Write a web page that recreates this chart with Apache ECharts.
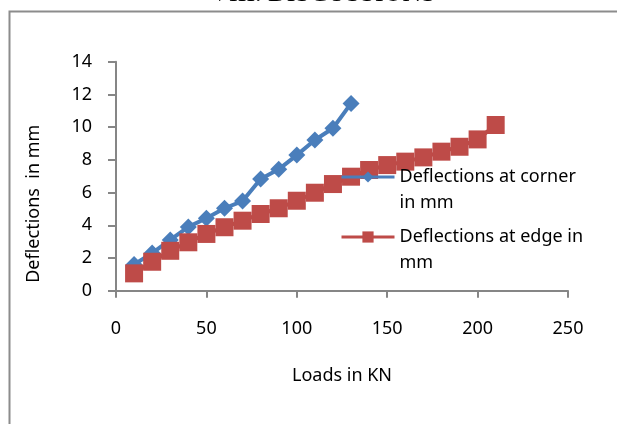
<!DOCTYPE html>
<html>
<head>
<meta charset="utf-8">
<style>
html,body{margin:0;padding:0;background:#fff;}
#chart{width:617px;height:424px;}
</style>
<script src="https://cdn.jsdelivr.net/npm/echarts@6/dist/echarts.min.js"></script>
</head>
<body>
<div id="chart"></div>
<script>
// Data
const cornerLoads = [10, 20, 30, 40, 50, 60, 70, 80, 90, 100, 110, 120, 130];
const cornerDefl  = [1.6, 2.3, 3.1, 3.9, 4.43, 5.04, 5.48, 6.83, 7.42, 8.29, 9.21, 9.93, 11.45];
const edgeLoads = [10, 20, 30, 40, 50, 60, 70, 80, 90, 100, 110, 120, 130, 140, 150, 160, 170, 180, 190, 200, 210];
const edgeDefl  = [1.06, 1.77, 2.44, 2.96, 3.47, 3.88, 4.28, 4.69, 5.04, 5.5, 5.99, 6.52, 6.97, 7.38, 7.68, 7.89, 8.15, 8.5, 8.8, 9.25, 10.13];
const seriesNames = ['Deflections at corner in mm', 'Deflections at edge in mm'];
const legendLines = {
  'Deflections at corner in mm': '\nDeflections at corner\nin mm',
  'Deflections at edge in mm': '\nDeflections at edge in\nmm'
};
const xTicks = [0, 50, 100, 150, 200, 250];
const yTicks = [0, 2, 4, 6, 8, 10, 12, 14];

const pair = (xs, ys) => xs.map((x, i) => [x, ys[i]]);

const font = '"Noto Sans", "Open Sans", sans-serif';
const axisGray = '#868686';
const blue = '#4a7ebb';
const red = '#be4b48';

const chart = echarts.init(document.getElementById('chart'), null, {renderer: 'canvas'});
chart.setOption({
  backgroundColor: '#ffffff',
  animation: false,
  textStyle: {fontFamily: font},
  graphic: [
    {
      type: 'rect', left: 7, top: 9, silent: true,
      shape: {x: 0, y: 0, width: 700, height: 500},
      style: {fill: 'none', stroke: '#8c8c8c', lineWidth: 2}
    },
    {
      type: 'text', x: 323, y: -6, silent: true,
      style: {text: 'VIII. DISCUSSIONS', fontFamily: '"Liberation Serif", serif', fontSize: 26,
              fill: '#000', align: 'center', verticalAlign: 'middle'}
    }
  ],
  grid: {left: 116, right: 49, top: 61.7, bottom: 133.3, containLabel: false},
  legend: {
    orient: 'vertical', left: 340, top: 138, padding: 0,
    itemWidth: 53, itemHeight: 14, itemGap: -18,
    data: seriesNames,
    formatter: name => legendLines[name],
    lineStyle: {width: 3},
    textStyle: {fontFamily: font, fontSize: 18, lineHeight: 26, color: '#000'}
  },
  xAxis: {
    type: 'value', min: 0, max: 250, interval: 50,
    name: 'Loads in KN', nameLocation: 'middle', nameGap: 76,
    nameTextStyle: {fontFamily: font, fontSize: 18, color: '#000'},
    axisLine: {show: true, lineStyle: {color: axisGray, width: 2}},
    axisTick: {show: true, length: 7, lineStyle: {color: axisGray, width: 2}},
    axisLabel: {margin: 29, fontFamily: font, fontSize: 18, color: '#000',
      customValues: xTicks},
    splitLine: {show: false}
  },
  yAxis: {
    type: 'value', min: 0, max: 14, interval: 2,
    name: 'Deflections  in mm', nameLocation: 'middle', nameGap: 73, nameRotate: 90,
    nameTextStyle: {fontFamily: font, fontSize: 18, color: '#000', padding: [0, 55, 0, 0]},
    axisLine: {show: true, lineStyle: {color: axisGray, width: 2}},
    axisTick: {show: true, length: 8, lineStyle: {color: axisGray, width: 2}},
    axisLabel: {margin: 24, fontFamily: font, fontSize: 18, color: '#000'},
    splitLine: {show: false}
  },
  series: [
    {
      name: seriesNames[0], type: 'line', data: pair(cornerLoads, cornerDefl),
      symbol: 'diamond', symbolSize: 17, showAllSymbol: true,
      lineStyle: {color: blue, width: 4},
      itemStyle: {color: blue},
      z: 2
    },
    {
      name: seriesNames[1], type: 'line', data: pair(edgeLoads, edgeDefl),
      symbol: 'rect', symbolSize: 18, showAllSymbol: true,
      lineStyle: {color: red, width: 4},
      itemStyle: {color: red},
      z: 3
    }
  ]
});
</script>
</body>
</html>
